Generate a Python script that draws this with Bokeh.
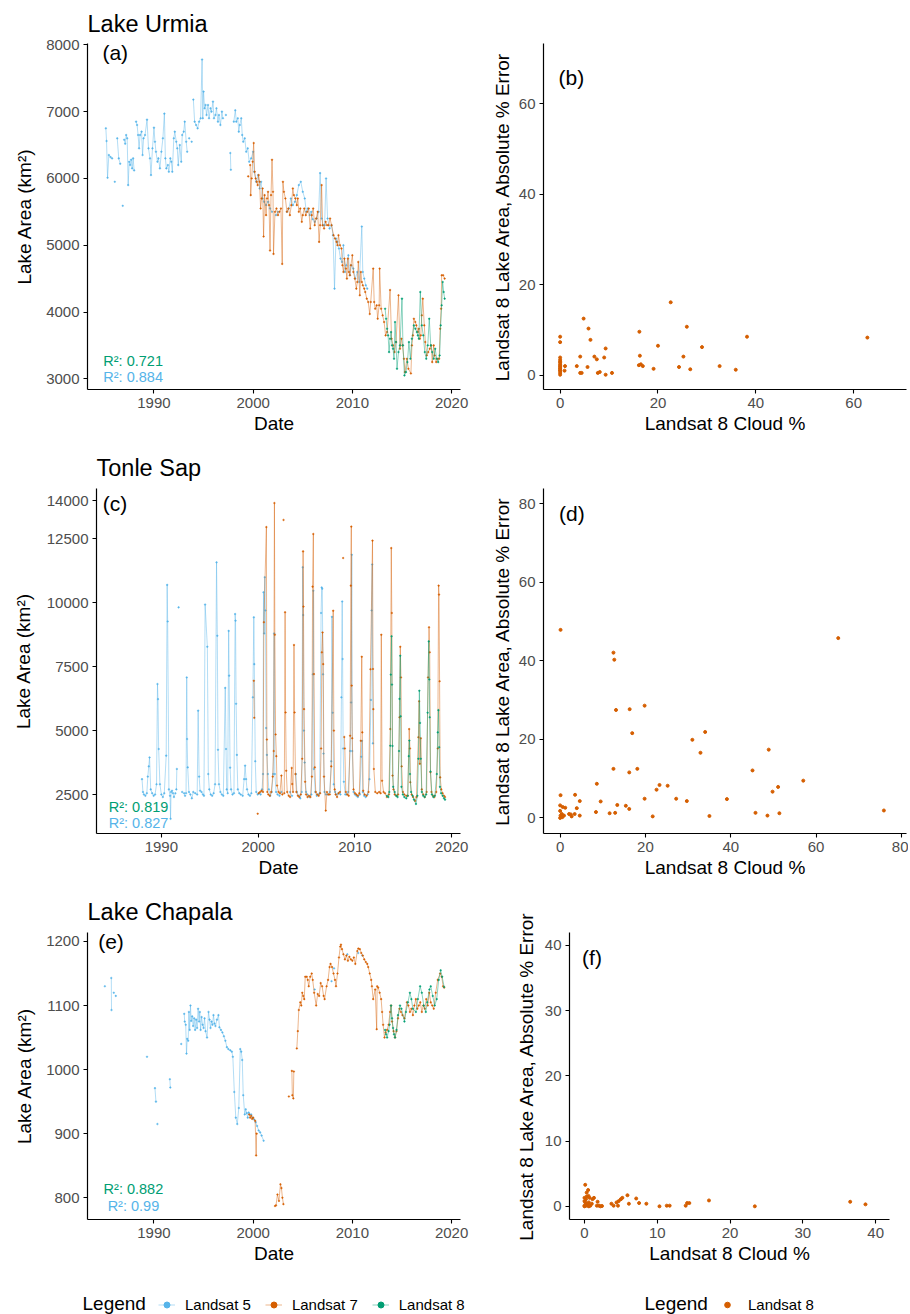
import math
from bokeh.plotting import figure
from bokeh.models import Range1d, FixedTicker, Label, Legend, LegendItem
from bokeh.layouts import column, row
from bokeh.embed import file_html
from bokeh.resources import INLINE

FONT = "Liberation Sans"
C5 = "#56B4E9"
C7 = "#D55E00"
C8 = "#009E73"
G = None  # gap marker

# ---------------- DATA ----------------
# Lake Urmia (year, area km2)
urmia_l5 = [(1985.15, 6750), (1985.22, 6560), (1985.32, 6010), (1985.45, 6350), (1985.62, 6320), (1985.78, 6300), G,
            (1986.05, 5950), G, (1986.3, 6600), (1986.45, 6300), (1986.6, 6220), G, (1986.85, 5590), G,
            (1987.0, 6580), (1987.1, 6520), (1987.2, 6650), (1987.3, 6600), (1987.4, 5900), (1987.5, 6250), (1987.6, 6200),
            (1987.7, 6280), (1987.8, 6150), (1987.9, 6300), (1988.0, 6120), G,
            (1988.2, 6850), (1988.3, 6800), (1988.4, 6650), (1988.5, 6450), (1988.6, 6650), (1988.75, 6700), (1988.85, 6350),
            (1988.95, 6600), (1989.1, 6650), (1989.3, 6880), (1989.45, 6450), (1989.6, 6300), (1989.7, 6050), (1989.85, 6450),
            (1990.0, 6760), (1990.1, 6550), (1990.2, 6400), (1990.35, 6250), (1990.45, 6300), (1990.6, 6150), (1990.75, 6400),
            (1990.9, 6600), (1991.05, 6970), (1991.15, 6300), (1991.25, 6150), (1991.4, 6200), (1991.5, 6100), (1991.65, 6300),
            (1991.75, 6250), (1991.85, 6100), (1992.0, 6600), (1992.1, 6700), (1992.25, 6550), (1992.35, 6450), (1992.45, 6200),
            (1992.6, 6500), (1992.75, 6250), (1992.85, 6650), (1993.0, 6700), (1993.1, 6850), (1993.25, 6550), (1993.35, 6400), G,
            (1993.55, 6600), G, (1993.8, 6550), G,
            (1993.97, 7180), (1994.1, 6850), (1994.25, 6800), (1994.4, 6750), (1994.55, 6850), (1994.7, 6900), (1994.85, 7780),
            (1994.92, 6900), (1995.0, 7300), (1995.1, 7050), (1995.2, 7100), (1995.3, 6950), (1995.45, 7100), (1995.55, 6900),
            (1995.7, 7050), (1995.8, 7000), (1995.95, 7150), (1996.05, 6900), (1996.2, 6950), (1996.3, 7050), (1996.45, 6850),
            (1996.55, 6950), (1996.7, 6800), (1996.85, 7000), (1996.95, 6900), G, (1997.25, 6950), G,
            (1997.7, 6380), (1997.75, 6130), G,
            (1998.05, 6850), (1998.2, 7020), (1998.3, 6850), (1998.45, 6900), (1998.55, 6700), (1998.65, 6800), (1998.8, 6900),
            (1998.9, 6650), (1999.0, 6550), (1999.15, 6600), (1999.3, 6400), (1999.45, 6450), (1999.6, 6250), (1999.8, 6300),
            (2000.0, 6400), (2000.1, 6100), (2000.3, 5950), (2000.5, 6050), (2000.65, 5850), (2000.8, 5950), (2000.95, 5700),
            (2001.1, 5650), (2001.3, 5600), (2001.5, 5650), (2001.7, 5550), (2001.9, 5500), G,
            (2002.3, 5450), (2002.5, 5500), G,
            (2003.4, 5500), (2003.6, 5550), (2003.8, 5700), (2004.0, 5600), (2004.2, 5650), (2004.4, 5750), (2004.6, 5900),
            (2004.8, 5950), (2005.0, 5800), (2005.2, 5700), (2005.35, 5500), (2005.5, 5550), (2005.7, 5450), (2005.85, 5500),
            (2006.0, 5390), (2006.2, 5350), (2006.4, 5400), (2006.6, 5500), (2006.75, 6080), (2006.9, 5400), (2007.05, 5300),
            (2007.2, 5300), (2007.35, 6000), (2007.5, 5400), (2007.7, 5250), (2007.9, 5300), (2008.05, 5150), (2008.2, 4350),
            (2008.35, 5100), (2008.5, 5050), (2008.65, 4950), (2008.8, 4800), (2008.95, 4750), (2009.1, 5000), (2009.25, 4600),
            (2009.4, 4700), (2009.6, 4850), (2009.75, 4550), (2009.9, 4700), (2010.1, 4650), (2010.3, 4500), (2010.5, 4600),
            (2010.7, 4450), (2010.95, 5280), (2011.05, 4600), (2011.2, 4500), (2011.35, 4400), (2011.5, 4350)]

urmia_l7 = [(1999.5, 6030), G,
            (1999.7, 6200), (1999.75, 5750), (1999.85, 6000), (1999.95, 6250), (2000.05, 6530), (2000.15, 6100), (2000.25, 6000),
            (2000.35, 5950), (2000.45, 5900), (2000.55, 6050), (2000.65, 5950), (2000.75, 5550), (2000.85, 5700), (2000.95, 5850),
            (2001.05, 5130), (2001.15, 5750), (2001.3, 5450), (2001.4, 5700), (2001.5, 5800), (2001.6, 5600), (2001.7, 4920),
            (2001.8, 5750), (2001.9, 6280), (2002.0, 5800), (2002.05, 4870), (2002.2, 5500), (2002.35, 5550), (2002.5, 5450),
            (2002.65, 5500), (2002.8, 5550), (2002.93, 4720), (2003.0, 5950), (2003.1, 5800), (2003.25, 5700), (2003.4, 5500),
            (2003.55, 5550), (2003.7, 5450), (2003.85, 5600), (2004.0, 5850), (2004.1, 5750), (2004.25, 5700), (2004.4, 5600),
            (2004.5, 5700), (2004.6, 5500), (2004.75, 5550), (2004.9, 5350), (2005.0, 5450), (2005.15, 5550), (2005.3, 5450),
            (2005.45, 5500), (2005.6, 5550), (2005.75, 5250), (2005.9, 5450), (2006.05, 5550), (2006.2, 5300), (2006.35, 5400),
            (2006.5, 5500), (2006.65, 5050), (2006.75, 5300), (2006.9, 5900), (2007.0, 5300), (2007.15, 5250), (2007.3, 5350),
            (2007.45, 5300), (2007.6, 5300), (2007.75, 5400), (2007.9, 5300), (2008.1, 5150), (2008.25, 5100), (2008.4, 5050),
            (2008.5, 5000), (2008.6, 5150), (2008.75, 5000), (2008.9, 4950), (2009.0, 4700), (2009.1, 4600), (2009.2, 4800),
            (2009.35, 4650), (2009.45, 4500), (2009.55, 4800), (2009.65, 4600), (2009.75, 4550), (2009.85, 4700), (2010.0, 4850),
            (2010.1, 4600), (2010.25, 4500), (2010.4, 4350), (2010.5, 4450), (2010.6, 4750), (2010.75, 4250), (2010.85, 4600),
            (2010.95, 4450), (2011.05, 4400), (2011.2, 4350), (2011.3, 4300), (2011.45, 4200), (2011.6, 4150), (2011.75, 3970),
            (2011.85, 4150), (2012.1, 4650), (2012.2, 4150), (2012.3, 4050), (2012.45, 4100), (2012.55, 3900), (2012.7, 4100),
            (2012.75, 4650), (2012.9, 4050), (2013.05, 3950), (2013.2, 3850), (2013.35, 3650), (2013.5, 3700), (2013.8, 4330),
            (2013.95, 3600), (2014.1, 3500), (2014.25, 3400), (2014.4, 3550), (2014.65, 4250), (2014.8, 3450), (2014.95, 3600),
            (2015.05, 3500), (2015.2, 3300), (2015.3, 3100), (2015.5, 3300), (2015.65, 3150), (2015.9, 3080), (2016.0, 3500),
            (2016.1, 3650), (2016.2, 3900), (2016.35, 3850), (2016.45, 3800), (2016.6, 3700), (2016.7, 3750), (2016.8, 3600),
            (2016.9, 3650), (2017.0, 3950), (2017.1, 4200), (2017.25, 3800), (2017.35, 3550), (2017.5, 3350), (2017.65, 3400),
            (2017.8, 3450), (2017.95, 3500), (2018.05, 3250), (2018.2, 3500), (2018.3, 3350), (2018.45, 3250), (2018.6, 3300),
            (2018.75, 3300), (2018.85, 3750), (2018.95, 4050), (2019.0, 4550), (2019.15, 4550), (2019.3, 4500)]

urmia_l8 = [(2013.3, 4050), (2013.4, 3900), (2013.5, 3750), (2013.6, 3650), (2013.7, 3400), (2013.8, 3600), (2013.9, 3700),
            (2014.0, 3500), (2014.1, 3450), (2014.2, 3300), (2014.3, 3850), (2014.4, 3550), (2014.5, 3150), (2014.65, 3400),
            (2014.8, 3500), (2015.0, 4200), (2015.1, 3500), (2015.25, 3050), (2015.4, 3100), (2015.55, 3250), (2015.7, 3550),
            (2015.85, 3300), (2016.0, 3600), (2016.2, 3800), (2016.35, 3750), (2016.5, 3700), (2016.6, 3650), (2016.7, 3600),
            (2016.85, 4300), (2017.0, 3800), (2017.15, 3650), (2017.3, 3400), (2017.45, 3300), (2017.6, 3500), (2017.75, 3900),
            (2017.9, 3500), (2018.05, 3400), (2018.2, 3300), (2018.35, 3450), (2018.5, 3300), (2018.65, 3250), (2018.8, 3350),
            (2018.9, 3800), (2019.0, 4100), (2019.1, 4450), (2019.2, 4300), (2019.3, 4200)]

# Tonle Sap
tonle_l5 = [(1988.0, 3100), (1988.1, 2600), (1988.2, 2500), (1988.35, 2450), (1988.5, 2550), (1988.6, 3200), (1988.7, 3600),
            (1988.78, 3950), (1988.9, 2700), (1989.05, 2550), (1989.2, 2450), (1989.35, 2500), (1989.5, 2900), (1989.6, 6820),
            (1989.65, 6230), (1989.72, 4280), (1989.85, 2900), (1990.0, 2500), (1990.15, 2400), (1990.3, 2550), (1990.5, 4020),
            (1990.6, 10700), (1990.65, 9270), (1990.78, 2700), (1990.9, 2450), (1990.95, 1550), (1991.0, 2600), (1991.1, 2650),
            (1991.2, 2550), (1991.3, 2400), (1991.45, 2550), G, (1991.55, 2700), (1991.6, 3500), G, (1991.78, 9820), G,
            (1992.15, 2600), G, (1992.35, 2550), (1992.45, 2450), G,
            (1992.55, 2550), (1992.62, 7080), (1992.66, 4670), (1992.72, 3560), (1992.85, 2600), (1993.0, 2500), (1993.15, 2350),
            (1993.3, 2600), (1993.5, 2550), (1993.7, 2500), (1993.8, 5780), (1993.9, 3200), (1994.0, 2650), (1994.15, 2600),
            (1994.3, 2500), (1994.4, 2450), (1994.52, 9930), (1994.75, 8280), (1994.85, 3300), (1994.95, 2700), (1995.1, 2500),
            (1995.25, 2450), (1995.4, 2550), (1995.55, 2900), (1995.7, 11580), (1995.78, 8710), (1995.85, 4250), (1995.95, 2900),
            (1996.1, 2600), (1996.25, 2500), (1996.4, 2450), (1996.6, 6670), (1996.68, 4280), (1996.75, 2700), (1996.85, 2550),
            (1996.95, 8900), (1997.0, 7150), (1997.1, 3550), (1997.2, 2700), (1997.35, 2500), (1997.5, 2550), (1997.62, 9560),
            (1997.66, 9300), (1997.72, 6050), (1997.8, 4050), (1997.9, 2700), (1998.05, 2550), (1998.2, 2500), (1998.4, 2450),
            (1998.55, 3100), (1998.65, 3630), (1998.75, 3100), (1998.85, 2700), (1999.0, 2500), (1999.15, 2450), (1999.3, 2550),
            (1999.45, 6300), (1999.55, 9430), (1999.6, 7600), (1999.7, 3800), (1999.8, 2600), (1999.95, 2500), (2000.1, 2550),
            (2000.25, 2500), (2000.4, 2700), (2000.5, 3300), (2000.55, 10410), (2000.62, 8800), (2000.68, 11000), (2000.75, 9700),
            (2000.82, 5100), (2000.9, 4050), (2001.0, 3300), (2001.1, 2700), (2001.25, 2450), (2001.4, 2600), (2001.55, 3300),
            (2001.65, 8800), (2001.72, 3300), (2001.85, 2600), (2002.0, 2500), (2002.2, 2450), (2002.4, 2600), G,
            (2003.3, 2600), (2003.5, 2450), G,
            (2003.9, 3300), (2004.0, 2600), (2004.2, 2450), (2004.35, 2350), (2004.5, 2600), (2004.6, 11390), (2004.65, 9520),
            (2004.72, 5000), (2004.8, 3750), (2004.95, 2600), (2005.1, 2500), (2005.3, 2400), (2005.5, 2500), (2005.65, 7200),
            (2005.7, 10470), (2005.75, 3500), (2005.9, 2600), (2006.05, 2450), (2006.2, 2500), (2006.35, 2550), (2006.5, 9600),
            (2006.56, 10600), (2006.62, 10550), (2006.7, 7200), (2006.75, 4100), (2006.85, 2600), (2007.0, 2500), (2007.2, 2500),
            (2007.4, 2600), (2007.55, 3800), (2007.62, 9450), (2007.7, 5700), (2007.8, 2900), (2007.95, 2600), (2008.1, 2500),
            (2008.3, 2550), (2008.5, 2500), (2008.6, 6300), (2008.68, 10050), (2008.72, 7800), (2008.78, 4300), (2008.85, 3000),
            (2009.0, 2500), (2009.15, 2500), (2009.3, 2600), (2009.5, 4200), (2009.6, 6100), (2009.67, 11880), (2009.72, 4200),
            (2009.85, 2600), (2010.0, 2500), (2010.15, 2450), (2010.3, 2400), (2010.5, 2500), (2010.65, 3980), (2010.72, 4600),
            (2010.8, 2600), (2010.95, 2450), (2011.1, 2400), (2011.3, 2500), (2011.5, 3100), (2011.65, 6200), (2011.72, 9700),
            (2011.78, 11500), (2011.85, 4500)]

tonle_l7 = [(1999.55, 6950), (1999.6, 5500), G, (1999.95, 1750), G,
            (2000.05, 2550), (2000.2, 2600), (2000.35, 2650), (2000.5, 2600), (2000.59, 9240), (2000.85, 12960), (2000.9, 4650),
            (2000.95, 2600), (2001.05, 2500), (2001.2, 2450), (2001.35, 2600), (2001.5, 3200), (2001.6, 4200), (2001.68, 13900),
            (2001.72, 8750), (2001.8, 4850), (2001.88, 4000), (2001.95, 2850), (2002.1, 2600), (2002.25, 2550), (2002.4, 3240),
            (2002.5, 2500), G, (2002.62, 13240), G,
            (2002.7, 2550), (2002.78, 9630), (2002.83, 5710), (2002.9, 3430), (2003.0, 2600), (2003.15, 2450), (2003.3, 2400),
            (2003.46, 3540), (2003.52, 2910), (2003.6, 2600), (2003.7, 8350), (2003.76, 5710), (2003.85, 3300), (2003.95, 2600),
            (2004.1, 2450), (2004.25, 2400), (2004.4, 2500), (2004.55, 3900), (2004.64, 12010), (2004.68, 9850), (2004.74, 5840),
            (2004.85, 3000), (2004.95, 2500), (2005.1, 2400), (2005.25, 2450), (2005.4, 2400), (2005.55, 3200), (2005.62, 10630),
            (2005.7, 12690), (2005.76, 7210), (2005.85, 3560), (2005.95, 2600), (2006.1, 2500), (2006.25, 2450), (2006.4, 2550),
            (2006.5, 4300), (2006.58, 8060), (2006.65, 8840), (2006.72, 7600), (2006.8, 3200), (2006.98, 1870), (2007.1, 2600),
            (2007.25, 2500), (2007.4, 2500), (2007.55, 3600), (2007.75, 9690), (2007.82, 5000), (2007.9, 2700), (2008.0, 2500),
            (2008.15, 2400), (2008.3, 2550), (2008.45, 2600), G, (2008.78, 11750), G,
            (2008.9, 4750), (2008.95, 4300), (2009.05, 2600), (2009.2, 2500), (2009.35, 2450), (2009.5, 4800), (2009.57, 10670),
            (2009.62, 12980), (2009.66, 6760), (2009.72, 4700), (2009.85, 2700), (2010.0, 2550), (2010.15, 2500), (2010.3, 2450),
            (2010.45, 2550), (2010.6, 4600), (2010.7, 7890), (2010.76, 4930), (2010.85, 2650), (2011.0, 2500), (2011.2, 2450),
            (2011.4, 2600), (2011.6, 7400), (2011.81, 12430), (2011.86, 7410), (2011.9, 5840), (2011.95, 3500), (2012.1, 2600),
            (2012.3, 2550), (2012.5, 2600), (2012.65, 2550), (2012.72, 8750), (2012.8, 3040), (2012.95, 2600), (2013.1, 2550),
            (2013.3, 2400), (2013.5, 2500), (2013.65, 5060), (2013.75, 12140), (2013.8, 9600), (2013.88, 3240), (2013.98, 2700),
            (2014.1, 2500), (2014.3, 2450), (2014.45, 2500), (2014.6, 5520), (2014.68, 8280), (2014.75, 7080), (2014.82, 3600),
            (2014.95, 2600), (2015.1, 2500), (2015.3, 2450), (2015.45, 2450), (2015.6, 5060), (2015.68, 4300), (2015.72, 2980),
            (2015.85, 2500), (2016.0, 2400), (2016.2, 2250), (2016.35, 2400), (2016.55, 4740), (2016.63, 6150), (2016.7, 3700),
            (2016.8, 4700), (2016.9, 2700), (2017.05, 2500), (2017.2, 2400), (2017.4, 2600), (2017.55, 7080), (2017.65, 9040),
            (2017.72, 8060), (2017.8, 3370), (2017.9, 2600), (2018.05, 2450), (2018.2, 2400), (2018.4, 2600), (2018.55, 4300),
            (2018.64, 10670), (2018.68, 10320), (2018.74, 6930), (2018.8, 3170), (2018.92, 2700), (2019.05, 2550), (2019.2, 2450),
            (2019.3, 2400)]

tonle_l8 = [(2013.3, 2450), (2013.45, 2400), (2013.55, 2600), (2013.65, 4410), (2013.7, 7190), (2013.78, 8690), (2013.82, 6800),
            (2013.88, 4400), (2013.95, 2800), (2014.1, 2600), (2014.25, 2450), (2014.4, 2400), (2014.55, 4200), (2014.6, 6240),
            (2014.68, 7930), (2014.72, 5560), (2014.8, 2800), (2014.95, 2500), (2015.1, 2400), (2015.3, 2350), (2015.45, 2450),
            (2015.55, 4000), (2015.62, 4610), (2015.68, 3300), (2015.8, 2600), (2015.95, 2450), (2016.1, 2300), (2016.3, 2130),
            (2016.45, 2450), (2016.55, 3900), (2016.65, 6560), (2016.72, 5300), (2016.8, 3900), (2016.9, 2600), (2017.05, 2450),
            (2017.2, 2400), (2017.35, 2500), (2017.5, 5700), (2017.62, 8490), (2017.68, 7000), (2017.72, 5520), (2017.8, 3400),
            (2017.95, 2500), (2018.1, 2400), (2018.25, 2450), (2018.45, 3300), (2018.55, 4930), (2018.62, 5800), (2018.7, 4350),
            (2018.78, 2800), (2018.9, 2550), (2019.05, 2450), (2019.2, 2350), (2019.3, 2300)]

# Lake Chapala
chapala_l5 = [(1985.05, 1130), G, (1985.7, 1143), (1985.72, 1093), G, (1985.95, 1120), G, (1986.15, 1115), G,
              (1989.3, 1020), G, (1990.1, 971), (1990.2, 950), G, (1990.35, 915), G, (1991.6, 985), (1991.65, 972), G,
              (1992.75, 1040), G,
              (1993.05, 1087), (1993.1, 1075), (1993.2, 1070), (1993.28, 1025), (1993.35, 1048), (1993.45, 1045), (1993.52, 1090),
              (1993.6, 1062), (1993.68, 1100), (1993.75, 1076), (1993.85, 1083), (1993.95, 1068), (1994.05, 1080), (1994.15, 1062),
              (1994.25, 1078), (1994.35, 1065), (1994.45, 1095), (1994.55, 1075), (1994.62, 1090), (1994.7, 1062), (1994.8, 1082),
              (1994.9, 1070), (1995.0, 1065), (1995.1, 1080), (1995.2, 1060), (1995.35, 1050), (1995.5, 1090), (1995.6, 1078),
              (1995.7, 1065), (1995.8, 1075), (1995.9, 1070), (1996.0, 1085), (1996.1, 1072), (1996.2, 1068), (1996.35, 1078),
              (1996.5, 1085), (1996.6, 1066), (1996.75, 1062), (1996.9, 1058), (1997.05, 1052), (1997.2, 1045), (1997.35, 1035),
              (1997.5, 1032), (1997.7, 1030), (1997.85, 1028), (1997.95, 1020), (1998.1, 965), (1998.25, 925), (1998.4, 915),
              (1998.55, 940), (1998.7, 1032), (1998.8, 1028), (1998.9, 1015), (1999.0, 960), (1999.15, 930), (1999.25, 938),
              (1999.35, 932), (1999.45, 925), (1999.55, 933), (1999.65, 930), (1999.8, 930), (1999.95, 925), (2000.1, 922),
              (2000.25, 918), (2000.4, 912), (2000.55, 905), (2000.7, 902), (2000.85, 897), (2001.05, 889), G,
              (2006.2, 1125), G, (2007.9, 1138), G, (2008.15, 1158), G, (2009.5, 1180), G, (2010.6, 1182), G, (2011.0, 1178)]

chapala_l7 = [(1999.6, 930), (1999.7, 925), (1999.8, 928), (1999.9, 923), (2000.0, 925), (2000.2, 920), (2000.3, 866), (2000.35, 900), G,
              (2002.2, 787), (2002.3, 788), (2002.45, 805), (2002.6, 795), (2002.75, 821), (2002.85, 815), (2002.95, 800), (2003.05, 790), G,
              (2003.6, 958), G, (2003.9, 998), (2003.95, 960), (2004.05, 955), (2004.1, 997), G,
              (2004.4, 1033), (2004.5, 1060), (2004.6, 1093), (2004.75, 1105), (2004.85, 1100), (2004.95, 1120), (2005.05, 1115),
              (2005.15, 1110), (2005.25, 1145), (2005.4, 1145), (2005.5, 1140), (2005.6, 1130), (2005.75, 1145), (2005.9, 1150),
              (2006.0, 1140), (2006.15, 1120), (2006.35, 1100), (2006.5, 1118), (2006.65, 1115), (2006.8, 1135), (2006.95, 1130),
              (2007.1, 1115), (2007.2, 1110), (2007.4, 1130), (2007.55, 1140), (2007.7, 1160), (2007.8, 1165), (2007.95, 1160),
              (2008.1, 1150), (2008.25, 1140), (2008.35, 1130), (2008.5, 1150), (2008.65, 1175), (2008.78, 1192), (2008.85, 1195),
              (2008.95, 1188), (2009.1, 1180), (2009.25, 1172), (2009.4, 1178), (2009.55, 1170), (2009.7, 1176), (2009.85, 1172),
              (2010.0, 1170), (2010.15, 1175), (2010.3, 1165), (2010.5, 1185), (2010.6, 1189), (2010.75, 1188), (2010.9, 1182),
              (2011.05, 1178), (2011.2, 1172), (2011.35, 1168), (2011.5, 1165), (2011.6, 1160), (2011.75, 1150), (2011.9, 1140),
              (2011.97, 1130), (2012.1, 1110), (2012.3, 1125), (2012.45, 1063), (2012.5, 1130), (2012.6, 1128), (2012.75, 1120),
              (2012.9, 1110), (2013.0, 1090), (2013.1, 1070), (2013.24, 1050), (2013.35, 1058), (2013.5, 1062), (2013.65, 1070),
              (2013.8, 1090), (2013.9, 1100), (2014.0, 1075), (2014.15, 1060), (2014.3, 1050), (2014.45, 1060), (2014.6, 1080),
              (2014.75, 1095), (2014.9, 1090), (2015.05, 1085), (2015.25, 1080), (2015.5, 1105), (2015.65, 1100), (2015.8, 1090),
              (2015.95, 1095), (2016.1, 1085), (2016.25, 1100), (2016.4, 1110), (2016.55, 1095), (2016.7, 1100), (2016.85, 1105),
              (2017.0, 1090), (2017.15, 1100), (2017.3, 1095), (2017.45, 1110), (2017.6, 1100), (2017.75, 1120), (2017.9, 1105),
              (2018.05, 1100), (2018.2, 1095), (2018.4, 1120), (2018.6, 1140), (2018.85, 1150), (2019.0, 1145), (2019.15, 1130),
              (2019.25, 1128)]

chapala_l8 = [(2013.3, 1062), (2013.4, 1055), (2013.5, 1050), (2013.65, 1060), (2013.75, 1070), (2013.9, 1100), (2014.0, 1080),
              (2014.1, 1065), (2014.2, 1055), (2014.3, 1050), (2014.45, 1062), (2014.6, 1085), (2014.8, 1100), (2014.95, 1095),
              (2015.25, 1075), (2015.4, 1090), (2015.6, 1105), (2015.8, 1120), (2015.95, 1110), (2016.1, 1095), (2016.4, 1090),
              (2016.6, 1110), (2016.83, 1130), (2017.0, 1120), (2017.2, 1100), (2017.4, 1090), (2017.55, 1105), (2017.77, 1125),
              (2017.9, 1130), (2018.1, 1115), (2018.3, 1100), (2018.5, 1110), (2018.7, 1140), (2018.9, 1155), (2019.05, 1145),
              (2019.25, 1129)]

# Scatter panels: Landsat 8 cloud % vs absolute % error
urmia_cloud = [0, 0, 0, 0, 0, 0, 0, 0, 0, 0, 0, 0, 0, 0, 0, 1.0, 0.9, 3.4, 4.1, 4.1, 4.4, 4.8, 5.8, 5.6, 6.2, 7.0, 7.5, 7.7,
               8.1, 9.0, 9.3, 9.3, 10.6, 16.2, 16.3, 16.1, 16.5, 16.9, 19.1, 20.0, 22.6, 24.3, 25.2, 25.9, 26.6, 29.0, 32.6,
               35.9, 38.2, 62.8]
urmia_err = [8.5, 7.3, 3.9, 3.4, 3.0, 2.8, 2.4, 2.1, 1.9, 1.6, 1.4, 1.1, 0.9, 0.5, 0.1, 2.0, 1.0, 2.0, 4.1, 0.5, 0.5, 12.5, 10.3,
             1.8, 7.8, 4.1, 3.5, 0.5, 0.7, 3.9, 5.9, 0.1, 0.5, 9.6, 4.3, 2.2, 2.4, 2.0, 1.4, 6.5, 16.1, 1.8, 4.1, 10.7, 1.3,
             6.2, 2.0, 1.2, 8.5, 8.3]

tonle_cloud = [0.1, 0.1, 0, 0, 0.1, 0, 0.5, 0.4, 0.6, 1.2, 0.9, 2.1, 2.7, 2.5, 3.5, 3.9, 3.4, 4.6, 4.6, 8.6, 8.4, 9.5, 11.6,
               12.5, 12.7, 12.5, 12.9, 13.1, 13.4, 15.4, 16.2, 16.3, 16.2, 16.9, 18.1, 19.8, 19.8, 21.7, 22.6, 23.3, 25.2,
               27.2, 29.7, 31.0, 32.9, 34.0, 35.0, 39.1, 45.1, 45.8, 48.6, 48.9, 49.8, 51.1, 51.4, 57.0, 65.2, 75.9]
tonle_err = [47.9, 5.8, 3.2, 1.8, 0.6, 0.0, 0.2, 1.0, 2.8, 2.6, 0.6, 1.0, 0.4, 0.9, 5.9, 2.5, 1.0, 4.3, 0.6, 8.7, 1.5, 4.2, 1.2,
             42.1, 40.3, 12.5, 1.3, 27.5, 3.3, 3.1, 11.6, 27.7, 2.3, 21.6, 12.5, 28.6, 4.9, 0.4, 7.2, 8.4, 8.2, 4.9, 4.3, 19.9,
             16.6, 21.9, 0.5, 4.8, 12.1, 1.3, 0.6, 17.4, 6.7, 7.9, 1.2, 9.5, 45.8, 1.9]

chapala_cloud = [0.1, 0.5, 0, 0.1, 0.2, 0.3, 0, 0.4, 0.6, 0.7, 0.8, 1.1, 1.0, 1.3, 0, 0.2, 0.5, 0.6, 0.3, 0, 0.55, 1.7, 1.8,
                 2.0, 2.2, 2.4, 3.7, 4.0, 4.4, 4.6, 4.7, 5.0, 5.2, 5.9, 6.1, 7.1, 7.5, 8.5, 10.3, 11.3, 11.7, 13.9, 14.1, 14.4,
                 17.1, 23.4, 36.5, 38.6]
chapala_err = [3.3, 2.5, 0.1, 0.6, 1.1, 1.5, 0.8, 0.4, 0.6, 1.3, 0.1, 1.1, 0.4, 1.3, 0.0, 0.1, 0.1, 0.0, 2.1, 1.3, 1.6, 0.1, 0.7,
               0.1, 0.0, 0.05, 0.4, 0.1, 0.6, 0.1, 0.8, 1.1, 1.3, 1.7, 0.4, 1.2, 0.5, 0.4, 0.0, 0.1, 0.1, 0.1, 0.5, 0.5, 0.9,
               0.0, 0.7, 0.3]

YEAR_TICKS = [1990, 2000, 2010, 2020]
NAN = float("nan")


def split(pairs):
    xs, ys = [], []
    for pr in pairs:
        if pr is None:
            xs.append(NAN)
            ys.append(NAN)
        else:
            xs.append(pr[0])
            ys.append(pr[1])
    return xs, ys


def make_fig(w, h, xr, yr, left, right, top, bottom):
    p = figure(width=w, height=h, x_range=Range1d(*xr), y_range=Range1d(*yr),
               output_backend="svg", toolbar_location=None,
               min_border_left=left, min_border_right=right,
               min_border_top=top, min_border_bottom=bottom)
    p.xgrid.visible = False
    p.ygrid.visible = False
    p.outline_line_color = None
    p.background_fill_color = "white"
    p.border_fill_color = "white"
    return p


def style(p, xticks, yticks, xlabel, ylabel, ystandoff):
    p.xaxis.ticker = FixedTicker(ticks=xticks)
    p.yaxis.ticker = FixedTicker(ticks=yticks)
    p.xaxis.axis_label = xlabel
    p.yaxis.axis_label = ylabel
    for ax in p.axis:
        ax.axis_line_color = "black"
        ax.axis_line_width = 1.2
        ax.major_tick_line_color = "black"
        ax.major_tick_line_width = 1.1
        ax.major_tick_out = 4
        ax.major_tick_in = 0
        ax.minor_tick_line_color = None
        ax.major_label_text_font = FONT
        ax.major_label_text_font_size = "15px"
        ax.major_label_text_color = "#4D4D4D"
        ax.major_label_standoff = 4
        ax.axis_label_text_font = FONT
        ax.axis_label_text_font_size = "19px"
        ax.axis_label_text_font_style = "normal"
        ax.axis_label_text_color = "black"
    p.xaxis.axis_label_standoff = 2
    p.yaxis.axis_label_standoff = ystandoff


def set_title(p, text, standoff):
    p.title.text = text
    p.title.text_font = FONT
    p.title.text_font_size = "23.5px"
    p.title.text_font_style = "normal"
    p.title.text_color = "black"
    p.title.align = "left"
    p.title.standoff = standoff


def add_series(p, pairs, color):
    xs, ys = split(pairs)
    p.line(xs, ys, line_color=color, line_alpha=0.45, line_width=1.0)
    px = [x for x in xs if not math.isnan(x)]
    py = [y for y in ys if not math.isnan(y)]
    p.scatter(px, py, size=1.6, fill_color=color, line_color=color, line_width=0.5)


def add_text(p, x, y, text, size="21px", color="black", align="center"):
    p.add_layout(Label(x=x, y=y, text=text, text_font=FONT, text_font_size=size,
                       text_color=color, text_align=align, text_baseline="middle"))


def ts_panel(h, yr, yticks, left, top, bottom, title, tstand, l5, l7, l8, tag, tagxy, r2xy, ystandoff):
    p = make_fig(488, h, (1983.3, 2020.9), yr, left, 28, top, bottom)
    style(p, YEAR_TICKS, yticks, "Date", "Lake Area (km²)", ystandoff)
    set_title(p, title, tstand)
    add_series(p, l5, C5)
    add_series(p, l7, C7)
    add_series(p, l8, C8)
    add_text(p, tagxy[0], tagxy[1], tag)
    add_text(p, r2xy[0], r2xy[1], r2xy[2], size="14.5px", color=C8)
    add_text(p, r2xy[0], r2xy[3], r2xy[4], size="14.5px", color=C5)
    return p


def sc_panel(h, xr, yr, ticks, left, right, top, bottom, cloud, err, tag, tagxy, ystandoff):
    p = make_fig(420, h, xr, yr, left, right, top, bottom)
    style(p, ticks, ticks, "Landsat 8 Cloud %", "Landsat 8 Lake Area, Absolute % Error", ystandoff)
    p.scatter(cloud, err, size=3.0, fill_color=C7, line_color=C7)
    add_text(p, tagxy[0], tagxy[1], tag)
    return p


pa = ts_panel(445, (2840, 8020), [3000, 4000, 5000, 6000, 7000, 8000], 87, 43, 56, "Lake Urmia", 13,
              urmia_l5, urmia_l7, urmia_l8, "(a)", (1986.1, 7885),
              (1987.9, 3274, "R²: 0.721", 3020, "R²: 0.884"), 8)
pb = sc_panel(445, (-3.4, 70.8), (-3.17, 73.3), [0, 20, 40, 60], 53, 2, 13, 56,
              urmia_cloud, urmia_err, "(b)", (2.3, 65.7), 3)

pc = ts_panel(440, (975, 14470), [2500, 5000, 7500, 10000, 12500, 14000], 96, 43, 52, "Tonle Sap", 15,
              tonle_l5, tonle_l7, tonle_l8, "(c)", (1985.2, 13880),
              (1987.64, 2031, "R²: 0.819", 1405, "R²: 0.827"), 10)
pd_ = sc_panel(440, (-3.9, 81.2), (-3.96, 83.9), [0, 20, 40, 60, 80], 53, 2, 11, 52,
               tonle_cloud, tonle_err, "(d)", (2.75, 77.6), 3)

pe = ts_panel(390, (766, 1214), [800, 900, 1000, 1100, 1200], 87, 47, 56, "Lake Chapala", 16,
              chapala_l5, chapala_l7, chapala_l8, "(e)", (1985.67, 1200),
              (1987.93, 814, "R²: 0.882", 787.5, "R²: 0.99"), 8)
pf = sc_panel(390, (-2.06, 41.9), (-2.02, 41.96), [0, 10, 20, 30, 40], 81, 19, 15, 56,
              chapala_cloud, chapala_err, "(f)", (1.03, 38.2), 5)

# Legend strip
pl = figure(width=908, height=39, x_range=Range1d(0, 908), y_range=Range1d(0, 39),
            output_backend="svg", toolbar_location=None, min_border=0,
            x_axis_location=None, y_axis_location=None)
pl.outline_line_color = None
pl.grid.visible = False
r5l = pl.line(x=[NAN], y=[NAN], line_color=C5, line_alpha=0.45, line_width=1.0)
r5p = pl.scatter(x=[NAN], y=[NAN], size=2.0, fill_color=C5, line_color=C5)
r7l = pl.line(x=[NAN], y=[NAN], line_color=C7, line_alpha=0.45, line_width=1.0)
r7p = pl.scatter(x=[NAN], y=[NAN], size=2.0, fill_color=C7, line_color=C7)
r8l = pl.line(x=[NAN], y=[NAN], line_color=C8, line_alpha=0.45, line_width=1.0)
r8p = pl.scatter(x=[NAN], y=[NAN], size=2.0, fill_color=C8, line_color=C8)
rdot = pl.scatter(x=[NAN], y=[NAN], size=3.0, fill_color=C7, line_color=C7)


def make_legend(items, loc, gw, standoff, spacing):
    lg = Legend(items=items, location=loc, orientation="horizontal",
                glyph_width=gw, glyph_height=15, label_standoff=standoff, spacing=spacing,
                padding=0, margin=0, border_line_color=None, background_fill_alpha=0,
                label_text_font=FONT, label_text_font_size="15px", label_text_color="black")
    return lg


leg1 = make_legend([LegendItem(label="Landsat 5", renderers=[r5l, r5p]),
                    LegendItem(label="Landsat 7", renderers=[r7l, r7p]),
                    LegendItem(label="Landsat 8", renderers=[r8l, r8p])], (158, 1), 17, 10, 14)
leg2 = make_legend([LegendItem(label="Landsat 8", renderers=[rdot])], (720, 1), 14, 14, 10)
pl.add_layout(leg1)
pl.add_layout(leg2)
pl.add_layout(Label(x=82, y=11, text="Legend", text_font=FONT, text_font_size="19px",
                    text_color="black", text_align="left", text_baseline="middle"))
pl.add_layout(Label(x=644, y=11, text="Legend", text_font=FONT, text_font_size="19px",
                    text_color="black", text_align="left", text_baseline="middle"))

layout = column(row(pa, pb), row(pc, pd_), row(pe, pf), pl)

open("out.html", "w").write(file_html(layout, INLINE, title="Lake area"))
